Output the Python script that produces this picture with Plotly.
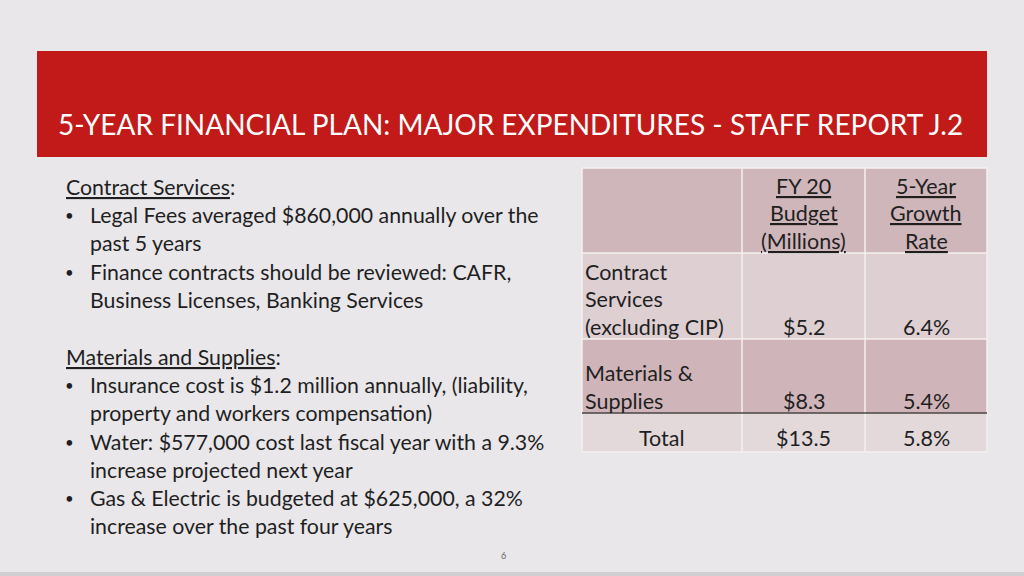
import plotly.graph_objects as go

# slide content
title = "5-YEAR FINANCIAL PLAN: MAJOR EXPENDITURES - STAFF REPORT J.2"

left_lines = [
    ("head", "<u>Contract Services</u>:"),
    ("bullet", "Legal Fees averaged $860,000 annually over the"),
    ("cont", "past 5 years"),
    ("bullet", "Finance contracts should be reviewed: CAFR,"),
    ("cont", "Business Licenses, Banking Services"),
    ("gap", ""),
    ("head", "<u>Materials and Supplies</u>:"),
    ("bullet", "Insurance cost is $1.2 million annually, (liability,"),
    ("cont", "property and workers compensation)"),
    ("bullet", "Water: $577,000 cost last fiscal year with a 9.3%"),
    ("cont", "increase projected next year"),
    ("bullet", "Gas & Electric is budgeted at $625,000, a 32%"),
    ("cont", "increase over the past four years"),
]

# table values
col_headers = ["", "FY 20<br>Budget<br>(Millions)", "5-Year<br>Growth<br>Rate"]
row_labels = ["Contract<br>Services<br>(excluding CIP)", "Materials &<br>Supplies", "Total"]
budget = ["$5.2", "$8.3", "$13.5"]
growth = ["6.4%", "5.4%", "5.8%"]
page_no = "6"

FONT = "Lato"
INK = "#1f1f1f"
BG = "#e9e7ea"
RED = "#c11a19"

fig = go.Figure()
shapes = []
annos = []

# slide bottom edge
shapes.append(dict(type="rect", x0=0, x1=1024, y0=572, y1=576,
                   fillcolor="#cfcfcf", line_width=0, layer="below"))

# red title banner
shapes.append(dict(type="rect", x0=37, x1=987, y0=51, y1=157,
                   fillcolor=RED, line_width=0, layer="below"))
annos.append(dict(x=510, y=124, text=title, showarrow=False,
                  font=dict(family=FONT, size=28, color="white"),
                  xanchor="center", yanchor="middle"))

# left text block
y = 187
for kind, txt in left_lines:
    if kind == "gap":
        y += 29
        continue
    if kind == "bullet":
        annos.append(dict(x=63, y=y, text="•", showarrow=False,
                          font=dict(family=FONT, size=15, color=INK),
                          xanchor="left", yanchor="middle"))
    x = 64 if kind == "head" else 88
    annos.append(dict(x=x, y=y, text=txt, showarrow=False,
                      font=dict(family=FONT, size=21.3, color=INK),
                      xanchor="left", yanchor="middle"))
    y += 28.2

annos.append(dict(x=503, y=555, text=page_no, showarrow=False,
                  font=dict(family=FONT, size=9, color="#666666"),
                  xanchor="center", yanchor="middle"))

# table
col_x = [582, 742, 865, 987]
row_y = [168, 253, 339, 413, 452]
row_fill = ["#cfb6ba", "#ddcfd2", "#cfb5b9", "#e3d9db"]

for r in range(4):
    shapes.append(dict(type="rect", x0=col_x[0], x1=col_x[3], y0=row_y[r], y1=row_y[r + 1],
                       fillcolor=row_fill[r], line_width=0, layer="below"))
# white cell separators
for cx in col_x:
    shapes.append(dict(type="line", x0=cx, x1=cx, y0=row_y[0], y1=row_y[-1],
                       line=dict(color="#f4f0f1", width=1.5)))
for ry in row_y[:3] + row_y[4:]:
    shapes.append(dict(type="line", x0=col_x[0], x1=col_x[3], y0=ry, y1=ry,
                       line=dict(color="#f4f0f1", width=1.5)))
shapes.append(dict(type="line", x0=col_x[0], x1=col_x[3], y0=row_y[3], y1=row_y[3],
                   line=dict(color="#4a4446", width=1.5)))


def cell_text(text, col, row, align, underline=False):
    lines = text.split("<br>")
    bottom = row_y[row + 1] - (14 if row == 3 else 12.5)
    for i, ln in enumerate(reversed(lines)):
        if not ln:
            continue
        if align == "left":
            x, anchor = col_x[col] + 1, "left"
        else:
            x, anchor = (col_x[col] + col_x[col + 1]) / 2, "center"
        annos.append(dict(x=x, y=bottom - i * 27.5, text=f"<u>{ln}</u>" if underline else ln,
                          showarrow=False, font=dict(family=FONT, size=21.5, color=INK),
                          xanchor=anchor, yanchor="middle"))


for c, h in enumerate(col_headers):
    cell_text(h, c, 0, "center", underline=True)
for r, lab in enumerate(row_labels):
    cell_text(lab, 0, r + 1, "center" if lab == "Total" else "left")
    cell_text(budget[r], 1, r + 1, "center")
    cell_text(growth[r], 2, r + 1, "center")

fig.update_layout(
    width=1024, height=576,
    margin=dict(l=0, r=0, t=0, b=0),
    paper_bgcolor=BG, plot_bgcolor=BG,
    xaxis=dict(range=[0, 1024], visible=False, fixedrange=True),
    yaxis=dict(range=[576, 0], visible=False, fixedrange=True),
    shapes=shapes, annotations=annos,
    showlegend=False,
)

# drop the default page margin so the slide fills the window
fig.write_html("out.html", config={"displayModeBar": False},
               post_script="document.body.style.margin='0';document.body.style.overflow='hidden';")
